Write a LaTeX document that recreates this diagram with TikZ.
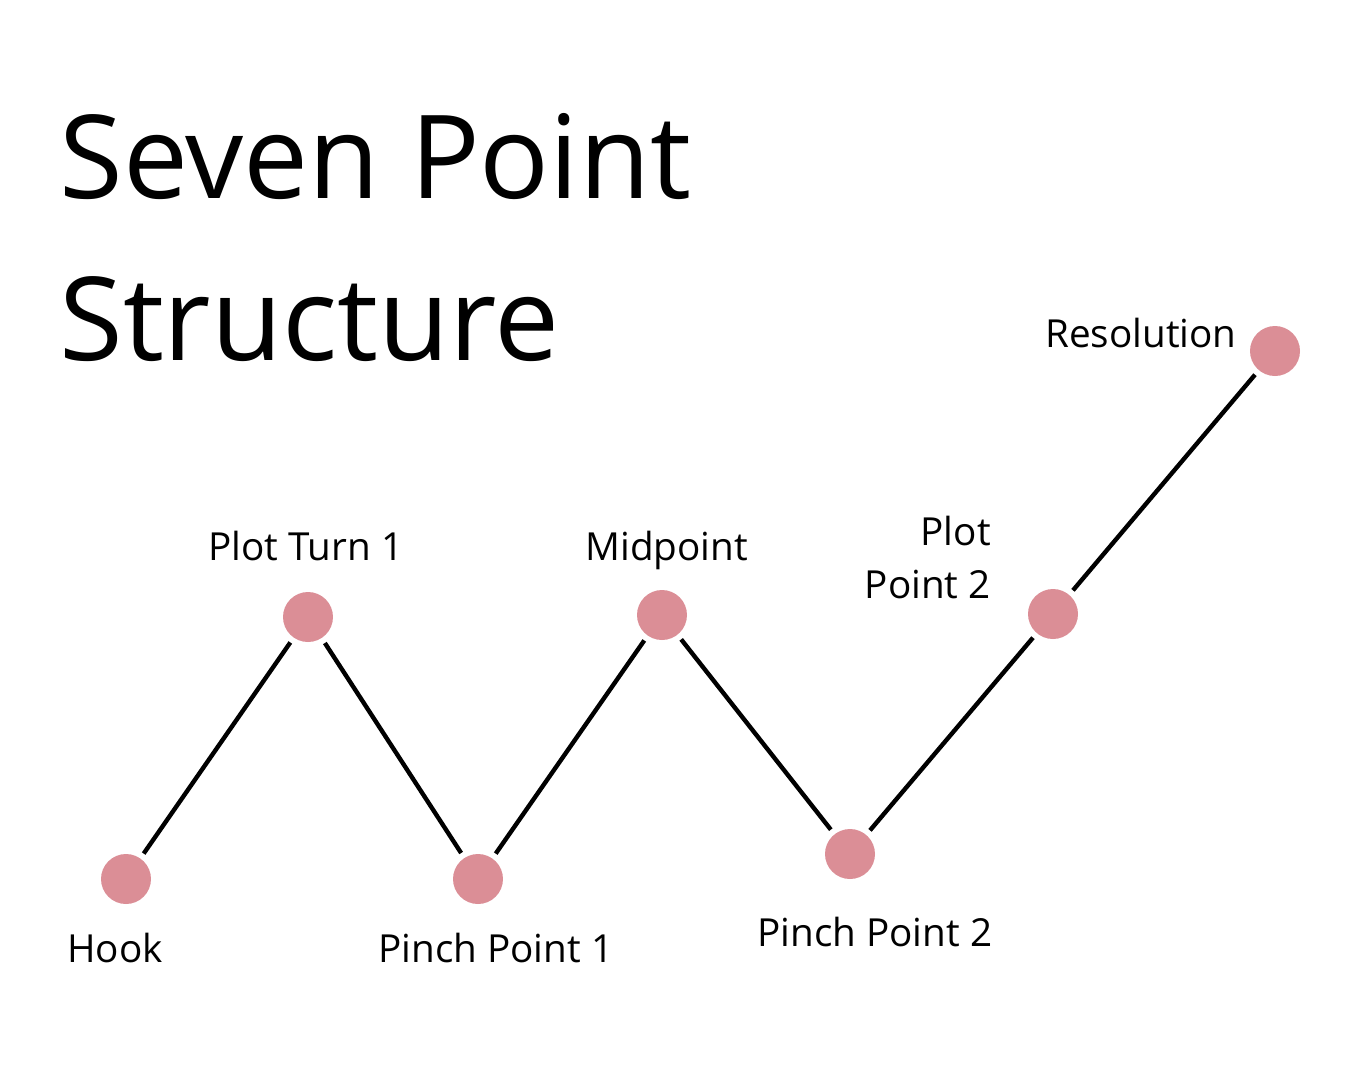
\documentclass[tikz,border=0pt]{standalone}
\usepackage{fontspec}
\setmainfont{Open Sans}
\usetikzlibrary{positioning}
\definecolor{pinkdot}{HTML}{DB8E96}

\begin{document}
\begin{tikzpicture}[x=0.02cm, y=-0.02cm,
  dot/.style = {circle, fill=pinkdot, minimum size=1cm, inner sep=0pt, outer sep=0.12cm},
  lbl/.style = {font=\fontsize{22}{30}\selectfont, inner sep=0pt, anchor=base west},
  big/.style = {font=\fontsize{66}{80}\selectfont, inner sep=0pt, anchor=base west},
  link/.style = {line width=2.5pt} ]

\useasboundingbox (0,0) rectangle (1350,1080);

% title
\node[big] (title1) at (59,198) {Seven Point};
\node[big] (title2) at (59,360) {Structure};

% the seven points
\node[dot] (hook)    at (126,879)  {};
\node[dot] (turn1)   at (308,617)  {};
\node[dot] (pinch1)  at (478,879)  {};
\node[dot] (mid)     at (662,615)  {};
\node[dot] (pinch2)  at (850,854)  {};
\node[dot] (turn2)   at (1053,614) {};
\node[dot] (resol)   at (1275,351) {};

% labels
\node[lbl] (hook_l)   at (67,962)  {Hook};
\node[lbl] (turn1_l)  at (208,560) {Plot Turn 1};
\node[lbl] (pinch1_l) at (378,962) {Pinch Point 1};
\node[lbl] (mid_l)    at (585,560) {Midpoint};
\node[lbl] (pinch2_l) at (757,946) {Pinch Point 2};
\node[lbl, anchor=base east, align=right] (turn2_l) at (991,598) {Plot\\Point 2};
\node[lbl, anchor=base east] (resol_l) at (1237,347) {Resolution};

%--- zig-zag ---
\draw[link] (hook) -- (turn1);
\draw[link] (turn1) -- (pinch1);
\draw[link] (pinch1) -- (mid);
\draw[link] (mid) -- (pinch2);
\draw[link] (pinch2) -- (turn2);
\draw[link] (turn2) -- (resol);

\end{tikzpicture}
\end{document}
